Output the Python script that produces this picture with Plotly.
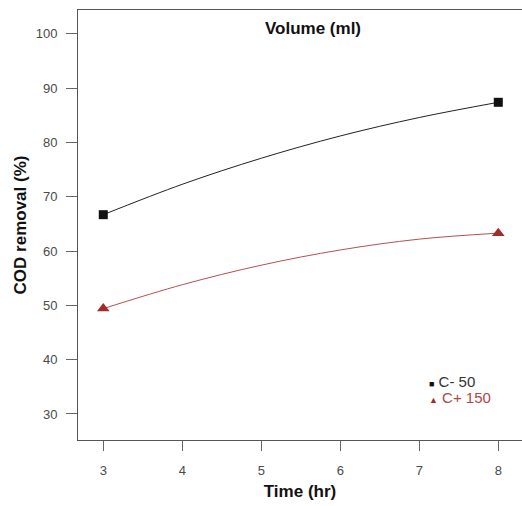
import plotly.graph_objects as go

# Data
time_curve = [3, 4, 5, 6, 7, 8]
cod_c50_curve = [66.7, 72.3, 77.1, 81.2, 84.6, 87.4]
cod_c150_curve = [49.4, 53.8, 57.4, 60.2, 62.2, 63.3]

time_pts = [3, 8]
cod_c50_pts = [66.7, 87.4]
cod_c150_pts = [49.4, 63.3]

series_names = ["C- 50", "C+ 150"]
x_ticks = [3, 4, 5, 6, 7, 8]
y_ticks = [30, 40, 50, 60, 70, 80, 90, 100]

BLACK = "#111111"
RED = "#a52a2a"
FONT = "Liberation Sans, Arial, sans-serif"

fig = go.Figure()
fig.add_trace(go.Scatter(x=time_curve, y=cod_c50_curve, mode="lines",
                         line=dict(color="#222222", width=1, shape="spline"),
                         showlegend=False, hoverinfo="skip"))
fig.add_trace(go.Scatter(x=time_curve, y=cod_c150_curve, mode="lines",
                         line=dict(color="#b55050", width=1, shape="spline"),
                         showlegend=False, hoverinfo="skip"))
fig.add_trace(go.Scatter(x=time_pts, y=cod_c50_pts, mode="markers",
                         marker=dict(symbol="square", color=BLACK, size=9),
                         name=series_names[0], showlegend=False))
fig.add_trace(go.Scatter(x=time_pts, y=cod_c150_pts, mode="markers",
                         marker=dict(symbol="triangle-up", color=RED, size=11),
                         name=series_names[1], showlegend=False))

legend_anns = [
    dict(text=f"<span style='color:{BLACK}; font-size:9px'>■</span> {series_names[0]}",
         x=(427 - 78) / 444, y=(440 - 381) / 430, font=dict(color="#333333")),
    dict(text=f"<span style='color:{RED}; font-size:9px'>▲</span> <span style='color:#b04545'>{series_names[1]}</span>",
         x=(427 - 78) / 444, y=(440 - 397) / 430, font=dict(color="#b04545")),
]
anns = [dict(text="<b>Volume (ml)</b>", x=(313 - 78) / 444, y=1.0, xref="paper", yref="paper",
             xanchor="center", yanchor="top", yshift=-7, showarrow=False,
             font=dict(family=FONT, size=17, color="#111111"))]
for a in legend_anns:
    a.update(xref="paper", yref="paper", xanchor="left", yanchor="middle",
             showarrow=False)
    a["font"].update(family=FONT, size=15)
    anns.append(a)

fig.update_layout(
    width=522, height=506,
    margin=dict(l=78, r=0, t=10, b=66),
    paper_bgcolor="white", plot_bgcolor="white",
    font=dict(family=FONT, size=13, color="#4a4a4a"),
    showlegend=False,
    annotations=anns,
)
fig.update_xaxes(range=[2.68, 8.3], tickvals=x_ticks, ticks="outside", ticklen=10,
                 tickcolor="#666666", showline=True, linecolor="#555555", linewidth=1,
                 mirror=True, showgrid=False, zeroline=False, ticklabelstandoff=8,
                 title=dict(text="<b>Time (hr)</b>", standoff=8,
                            font=dict(family=FONT, size=17, color="#111111")))
fig.update_yaxes(range=[25.2, 104.4], tickvals=y_ticks, ticks="outside", ticklen=11,
                 tickcolor="#666666", showline=True, linecolor="#555555", linewidth=1,
                 mirror=False, showgrid=False, zeroline=False, ticklabelstandoff=6,
                 title=dict(text="<b>COD removal (%)</b>", standoff=4,
                            font=dict(family=FONT, size=17, color="#111111")))

fig.write_html("out.html")
